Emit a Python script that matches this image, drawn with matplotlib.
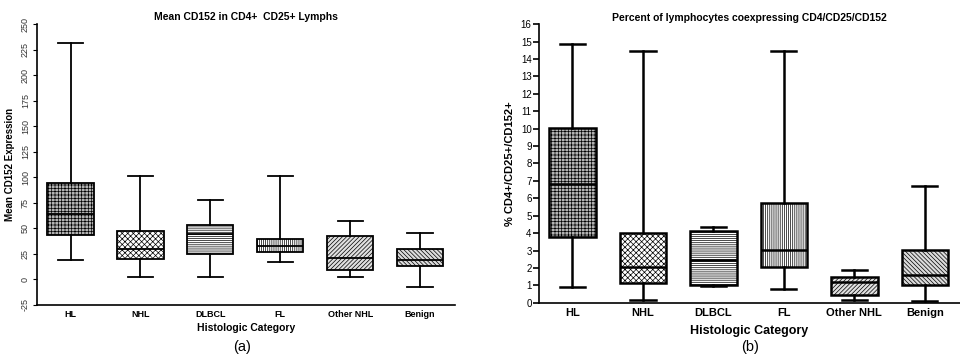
import matplotlib
matplotlib.use("Agg")
import matplotlib.pyplot as plt

categories = ["HL", "NHL", "DLBCL", "FL", "Other NHL", "Benign"]

# panel (a): mean CD152 expression
a_low = [19, 2, 2, 17, 2, -7.5]
a_q1 = [43.5, 20, 24.5, 27, 9, 13.5]
a_med = [64, 30, 44, 33, 21, 19]
a_q3 = [94, 47, 53, 40, 43, 30]
a_high = [232, 101, 77.5, 101, 57.5, 45.5]

# panel (b): percent CD4/CD25/CD152
b_low = [0.9, 0.14, 0.96, 0.79, 0.14, 0.08]
b_q1 = [3.8, 1.15, 1.03, 2.03, 0.44, 1.02]
b_med = [6.85, 2.07, 2.43, 3.06, 1.19, 1.61]
b_q3 = [10.05, 4.02, 4.1, 5.74, 1.5, 3.06]
b_high = [14.85, 14.45, 4.35, 14.45, 1.88, 6.7]

hatches = ["+++++", "xxxxxx", "--------", "||||||||", "////////", "\\\\\\\\\\\\\\\\"]
faces = ["#b4b4b4", "white", "white", "white", "#e0e0e0", "#dcdcdc"]


def make_stats(low, q1, med, q3, high):
    stats = []
    for i in range(len(categories)):
        stats.append({"whislo": low[i], "q1": q1[i], "med": med[i],
                      "q3": q3[i], "whishi": high[i], "fliers": []})
    return stats


def draw_panel(ax, stats, lw):
    res = ax.bxp(stats, positions=range(len(categories)), widths=0.66,
                 patch_artist=True, showfliers=False,
                 boxprops=dict(linewidth=lw, edgecolor="black"),
                 medianprops=dict(color="black", linewidth=lw),
                 whiskerprops=dict(color="black", linewidth=lw),
                 capprops=dict(color="black", linewidth=lw),
                 capwidths=0.36)
    for box, h, fc in zip(res["boxes"], hatches, faces):
        box.set_facecolor(fc)
        box.set_hatch(h)
    ax.spines["top"].set_visible(False)
    ax.spines["right"].set_visible(False)
    ax.spines["left"].set_linewidth(1.2)
    ax.spines["bottom"].set_linewidth(1.2)
    ax.set_xlim(-0.48, 5.5)
    ax.set_xticks(range(len(categories)))
    ax.tick_params(axis="x", length=0)


plt.rcParams["font.family"] = ["Liberation Sans", "DejaVu Sans"]
plt.rcParams["hatch.linewidth"] = 0.5

fig = plt.figure(figsize=(9.6, 3.55), dpi=100)

ax1 = fig.add_axes([0.0385, 0.141, 0.4355, 0.791])
draw_panel(ax1, make_stats(a_low, a_q1, a_med, a_q3, a_high), 1.3)
ax1.set_ylim(-25, 250)
ax1.set_yticks(range(-25, 251, 25))
ax1.set_yticklabels([str(v) for v in range(-25, 251, 25)], rotation=90,
                    va="center", fontsize=6.5, color="#333333")
ax1.tick_params(axis="y", length=3, pad=2)
ax1.set_xticklabels(categories, fontsize=6.5, fontweight="bold")
ax1.set_title("Mean CD152 in CD4+  CD25+ Lymphs", fontsize=7.5,
              fontweight="bold", pad=3)
ax1.set_ylabel("Mean CD152 Expression", fontsize=7, fontweight="bold",
               labelpad=4)
ax1.set_xlabel("Histologic Category", fontsize=7.5, fontweight="bold",
               labelpad=3)

ax2 = fig.add_axes([0.561, 0.147, 0.439, 0.785])
draw_panel(ax2, make_stats(b_low, b_q1, b_med, b_q3, b_high), 1.8)
ax2.set_ylim(0, 16)
ax2.set_yticks(range(0, 17))
ax2.tick_params(axis="y", length=4, width=1.2, labelsize=7, pad=1)
ax2.set_xticklabels(categories, fontsize=8, fontweight="bold")
ax2.set_title("Percent of lymphocytes coexpressing CD4/CD25/CD152",
              fontsize=7.5, fontweight="bold", pad=2)
ax2.set_ylabel("% CD4+/CD25+/CD152+", fontsize=8, fontweight="bold",
               labelpad=4)
ax2.set_xlabel("Histologic Category", fontsize=9, fontweight="bold",
               labelpad=5)

fig.text(0.252, 0.012, "(a)", fontsize=10.5, ha="center")
fig.text(0.781, 0.012, "(b)", fontsize=10.5, ha="center")

fig.savefig("out.png", dpi=100)
